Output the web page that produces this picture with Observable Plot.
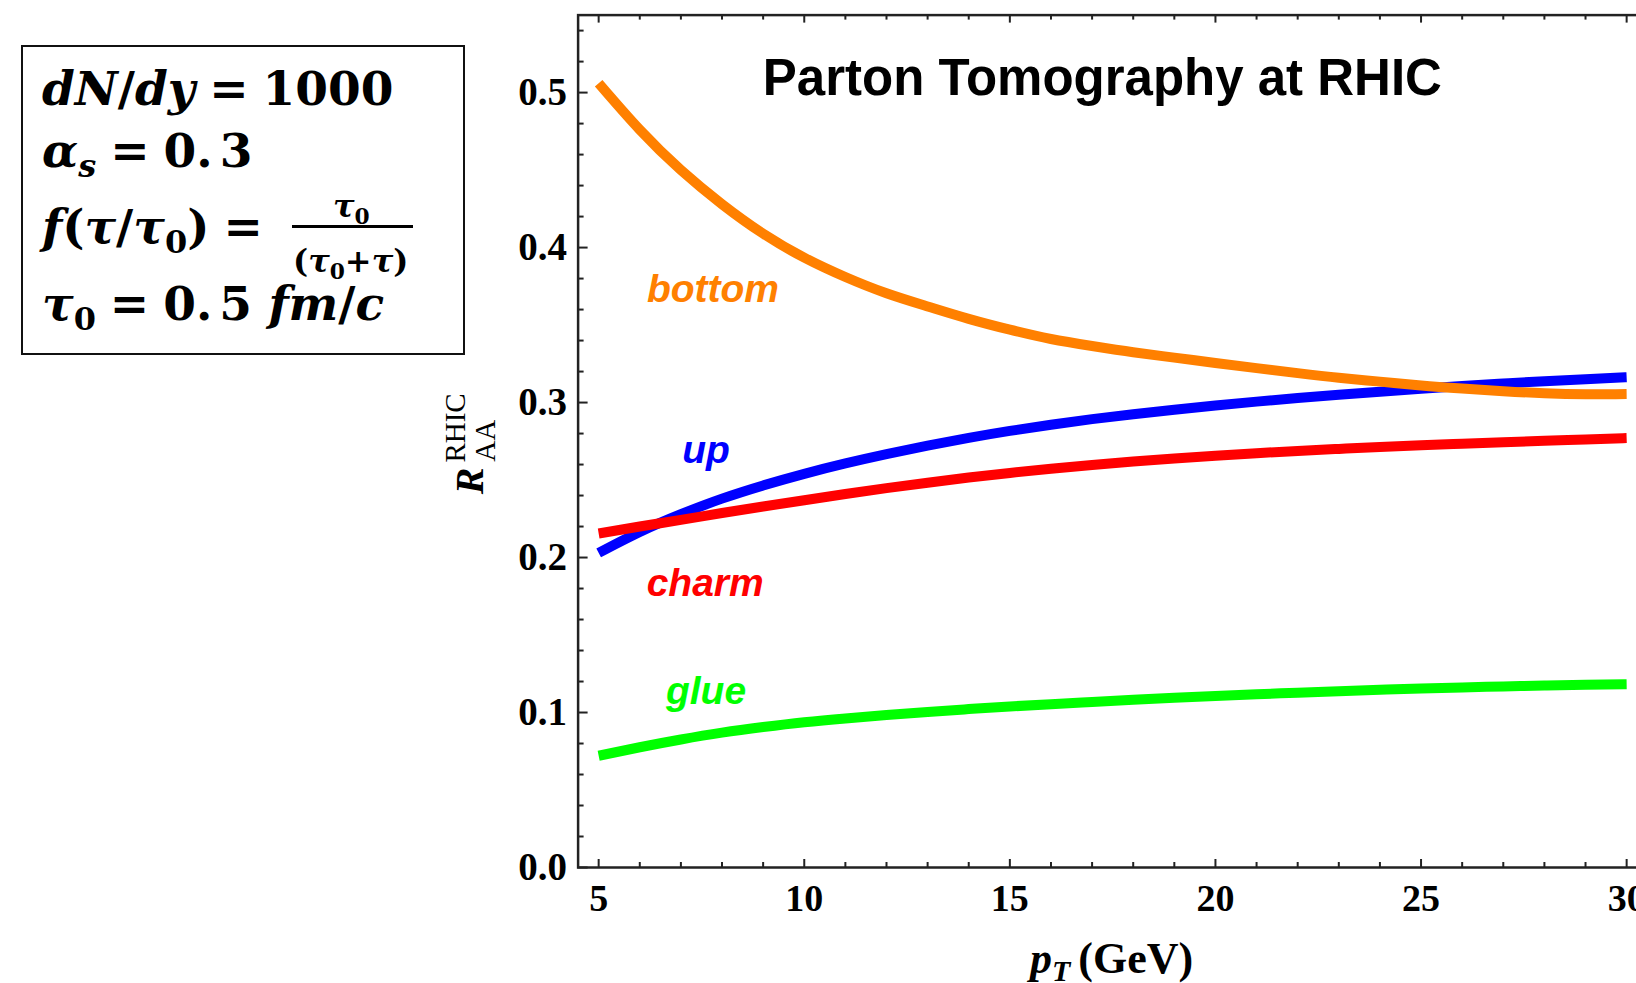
<!DOCTYPE html>
<html>
<head>
<meta charset="utf-8">
<script src="https://cdn.jsdelivr.net/npm/d3@7"></script>
<script src="https://cdn.jsdelivr.net/npm/@observablehq/plot@0.6"></script>
<style>
html, body { margin: 0; padding: 0; background: #fff; overflow: hidden; width: 1636px; height: 983px; }
#chart { position: absolute; left: 0; top: 0; z-index: 1; }
#params { position: absolute; left: 21px; top: 45px; width: 444px; height: 310px; border: 2px solid #111; box-sizing: border-box; z-index: 2; }
.ln { position: absolute; z-index: 3; font-family: "DejaVu Serif", serif; font-weight: bold; font-size: 47px; line-height: 47px; white-space: nowrap; color: #000; }
.ln i { font-style: italic; }
.eq { display: inline-block; margin: 0 14px; }
.gap { display: inline-block; margin-left: 7px; }
.small { font-size: 32px; line-height: 32px; }
.sub { font-size: 0.68em; position: relative; top: 0.3em; }
.bar { position: absolute; z-index: 3; background: #000; }
</style>
</head>
<body>
<div id="chart"></div>
<div id="params"></div>
<div class="ln" style="left:42px; top:65px"><i>dN</i>/<i>dy</i><span class="eq">=</span>1000</div>
<div class="ln" style="left:42px; top:127px"><i>α</i><span class="sub"><i>s</i></span><span class="eq">=</span>0.<span class="gap">3</span></div>
<div class="ln" style="left:42px; top:203px"><i>f</i>(<i>τ</i>/<i>τ</i><span class="sub">0</span>)<span class="eq">=</span></div>
<div class="ln small" style="left:333px; top:190px"><i>τ</i><span class="sub">0</span></div>
<div class="bar" style="left:292px; top:225px; width:121px; height:3px"></div>
<div class="ln small" style="left:293px; top:245px">(<i>τ</i><span class="sub">0</span>+<i>τ</i>)</div>
<div class="ln" style="left:42px; top:280px"><i>τ</i><span class="sub">0</span><span class="eq">=</span>0.<span class="gap">5</span> <i>fm</i>/<i>c</i></div>
<script>
// ---- data ----
const pT = [5, 6, 7, 8, 9, 10, 11, 12, 13, 14, 15, 16, 17, 18, 19, 20, 21, 22, 23, 24, 25, 26, 27, 28, 29, 30];
const bottom = [0.506, 0.476, 0.450, 0.428, 0.409, 0.3935, 0.381, 0.3705, 0.362, 0.354, 0.347, 0.341, 0.3365, 0.3325, 0.329, 0.3255, 0.3222, 0.319, 0.316, 0.3135, 0.311, 0.309, 0.3073, 0.306, 0.3054, 0.3056];
const up = [0.203, 0.2165, 0.228, 0.238, 0.2465, 0.254, 0.2607, 0.2667, 0.2722, 0.2772, 0.2817, 0.2857, 0.2893, 0.2925, 0.2954, 0.2981, 0.3006, 0.3029, 0.305, 0.307, 0.3089, 0.3107, 0.3123, 0.3138, 0.3151, 0.3163];
const charm = [0.2155, 0.22, 0.2243, 0.2287, 0.2329, 0.237, 0.241, 0.2448, 0.2483, 0.2516, 0.2546, 0.2573, 0.2597, 0.2619, 0.2639, 0.2657, 0.2673, 0.2688, 0.2701, 0.2713, 0.2724, 0.2734, 0.2744, 0.2753, 0.2762, 0.2771];
const glue = [0.0721, 0.0776, 0.0826, 0.087, 0.0906, 0.0937, 0.0962, 0.0984, 0.1004, 0.1022, 0.1039, 0.1054, 0.1068, 0.1082, 0.1095, 0.1107, 0.1118, 0.1128, 0.1138, 0.1147, 0.1155, 0.1162, 0.1168, 0.1174, 0.1179, 0.1183];

const seriesNames = ["up", "charm", "bottom", "glue"];
const seriesData = [up, charm, bottom, glue];
const seriesColors = ["#0000ff", "#ff0000", "#ff8000", "#00ff00"];

const xTicks = [5, 10, 15, 20, 25, 30];
const yTicks = [0, 0.1, 0.2, 0.3, 0.4, 0.5];

const titleText = "Parton Tomography at RHIC";
// label anchor positions (data coordinates)
const labelX = [7.61, 7.59, 7.78, 7.61];
const labelY = [0.269, 0.1832, 0.3732, 0.1135];

// ---- layout ----
const W = 1660, H = 983;
const mL = 577.6, mT = 14.6, mB = H - 867, mR = W - 1646.7;
const plotW = W - mL - mR, plotH = H - mT - mB;

const xMinor = d3.range(5, 31).filter(d => d % 5 !== 0);
const yMinor = d3.range(0, 28).map(i => +(i * 0.02).toFixed(2)).filter(d => Math.round(d * 100) % 10 !== 0);

const frameColor = "#222";
const serif = "Liberation Serif, Times New Roman, serif";
const sans = "Liberation Sans, Arial, sans-serif";

const tables = seriesData.map((vals, k) => pT.map((p, i) => ({pT: p, R: vals[i], name: seriesNames[k]})));

const chart = Plot.plot({
  width: W, height: H,
  marginLeft: mL, marginRight: mR, marginTop: mT, marginBottom: mB,
  style: {background: "white", maxWidth: "none", overflow: "visible"},
  x: {domain: [4.5, 30.5], label: null},
  y: {domain: [0, 0.55], label: null},
  marks: [
    ...tables.map((t, k) => Plot.line(t, {x: "pT", y: "R", stroke: seriesColors[k], strokeWidth: 10, strokeLinecap: "butt", curve: "natural"})),
    ...seriesNames.map((n, k) => Plot.text([{x: labelX[k], y: labelY[k], t: n}], {
      x: "x", y: "y", text: "t", fill: seriesColors[k], fontSize: 39, fontFamily: sans, fontWeight: "bold", fontStyle: "italic", textAnchor: "middle"
    })),
    Plot.frame({stroke: frameColor, strokeWidth: 2.5}),
    // inward ticks: bottom
    Plot.tickX(xTicks, {x: d => d, insetTop: plotH - 8, stroke: frameColor, strokeWidth: 2}),
    Plot.tickX(xMinor, {x: d => d, insetTop: plotH - 5, stroke: frameColor, strokeWidth: 2}),
    // top
    Plot.tickX(xTicks, {x: d => d, insetBottom: plotH - 8, stroke: frameColor, strokeWidth: 2}),
    Plot.tickX(xMinor, {x: d => d, insetBottom: plotH - 5, stroke: frameColor, strokeWidth: 2}),
    // left
    Plot.tickY(yTicks, {y: d => d, insetRight: plotW - 10, stroke: frameColor, strokeWidth: 2}),
    Plot.tickY(yMinor, {y: d => d, insetRight: plotW - 6, stroke: frameColor, strokeWidth: 2}),
    Plot.axisX({ticks: xTicks, tickSize: 0, tickPadding: 17, tickFormat: d => String(d), fontSize: 38, fontFamily: serif, fontWeight: "bold", label: null}),
    Plot.axisY({ticks: yTicks, tickSize: 0, tickPadding: 11, tickFormat: d3.format(".1f"), fontSize: 39, fontFamily: serif, fontWeight: "bold", label: null}),
    Plot.text([{x: 17.25, t: titleText}], {x: "x", text: "t", frameAnchor: "top", dy: 80, lineAnchor: "bottom", textAnchor: "middle", fontSize: 51, fontFamily: sans, fontWeight: "bold", fill: "#000"}),
    Plot.text([{x: 15.49, t: "p"}], {x: "x", text: "t", frameAnchor: "bottom", dy: 105, lineAnchor: "bottom", textAnchor: "start", fontSize: 44, fontFamily: serif, fontWeight: "bold", fontStyle: "italic", fill: "#000", ariaDescription: "xlabel"}),
    Plot.text([{y: 0.2408, t: "R"}], {y: "y", text: "t", frameAnchor: "left", dx: 483 - 577.6, lineAnchor: "bottom", textAnchor: "start", rotate: -90, fontSize: 40, fontFamily: serif, fontWeight: "bold", fontStyle: "italic", fill: "#000", ariaDescription: "ylabel"})
  ]
});
document.getElementById("chart").appendChild(chart);

// sub/superscripts for the axis labels
const NS = "http://www.w3.org/2000/svg";
function addSpan(textEl, str, attrs) {
  const s = document.createElementNS(NS, "tspan");
  for (const [k, v] of Object.entries(attrs)) s.setAttribute(k, v);
  s.textContent = str;
  textEl.appendChild(s);
}
const xl = chart.querySelector('g[aria-description="xlabel"] text');
if (xl) {
  addSpan(xl, "T", {"font-size": 30, dy: 8.5});
  addSpan(xl, "(GeV)", {"font-style": "normal", "font-size": 44, dy: -8.5, dx: 8});
}
const yl = chart.querySelector('g[aria-description="ylabel"] text');
if (yl) {
  addSpan(yl, "RHIC", {"font-size": 29, "font-weight": "normal", "font-style": "normal", dx: 5, dy: -18});
  addSpan(yl, "AA", {"font-size": 29, "font-weight": "normal", "font-style": "normal", x: 32.5, dy: 30});
}
</script>
</body>
</html>
